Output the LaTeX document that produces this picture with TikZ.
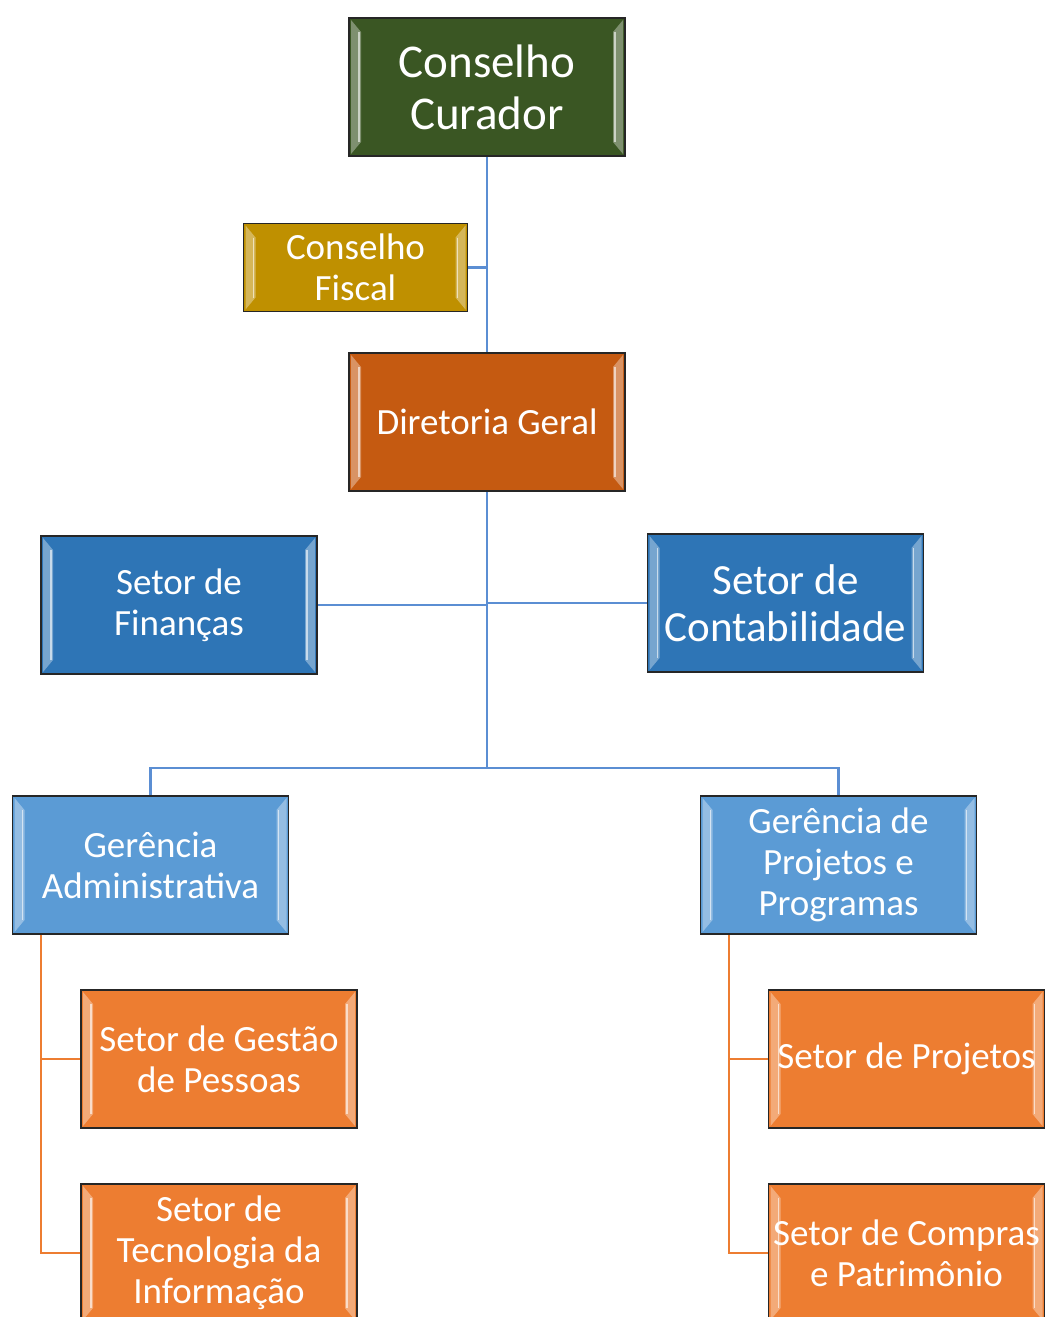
\documentclass[tikz,border=0pt]{standalone}
\usepackage{fontspec}
\setmainfont{Carlito}
\definecolor{curadorgreen}{HTML}{3A5623}
\definecolor{fiscalgold}{HTML}{BF9000}
\definecolor{diretoriaorange}{HTML}{C55A11}
\definecolor{setorblue}{HTML}{2E75B6}
\definecolor{gerencialight}{HTML}{5B9BD5}
\definecolor{setororange}{HTML}{ED7D31}
\definecolor{linkblue}{HTML}{5B8ED3}
\definecolor{linkorange}{HTML}{ED7D31}
\tikzset{
  orgbox/.style={draw=black!85, line width=1.6pt, minimum width=276pt, minimum height=138pt,
    inner sep=0pt, text=white, align=center, font=\fontsize{37}{41}\selectfont,
    path picture={
      % bevel strips
      \fill[white,opacity=.35] ([shift={(2,2)}]path picture bounding box.north west)
        -- ([shift={(12,14)}]path picture bounding box.north west)
        -- ([shift={(12,-14)}]path picture bounding box.south west)
        -- ([shift={(2,-2)}]path picture bounding box.south west) -- cycle;
      \fill[white,opacity=.35] ([shift={(-2,2)}]path picture bounding box.north east)
        -- ([shift={(-12,14)}]path picture bounding box.north east)
        -- ([shift={(-12,-14)}]path picture bounding box.south east)
        -- ([shift={(-2,-2)}]path picture bounding box.south east) -- cycle;
      \draw[white,opacity=.6,line width=1.5pt]
        ([shift={(10,14)}]path picture bounding box.north west)
        -- ([shift={(10,-14)}]path picture bounding box.south west);
      \draw[white,opacity=.6,line width=1.5pt]
        ([shift={(-10,14)}]path picture bounding box.north east)
        -- ([shift={(-10,-14)}]path picture bounding box.south east);
    }},
  blueline/.style={draw=linkblue, line width=2.2pt},
  orangeline/.style={draw=linkorange, line width=2.2pt}
}
\begin{document}
\begin{tikzpicture}[x=1pt,y=-1pt]
  \useasboundingbox (0,0) rectangle (1045,1317);

  % top level
  \node[orgbox, fill=curadorgreen, font=\fontsize{47}{52}\selectfont] (curador) at (487,87) {Conselho\\Curador};
  \node[orgbox, fill=fiscalgold, minimum width=224pt, minimum height=88pt] (fiscal) at (355.5,267.5) {Conselho\\Fiscal};
  \node[orgbox, fill=diretoriaorange] (diretoria) at (487,422) {Diretoria Geral};

  % setores ligados a diretoria
  \node[orgbox, fill=setorblue] (financas) at (179,605) {Setor de\\Finanças};
  \node[orgbox, fill=setorblue, font=\fontsize{43}{47}\selectfont] (contab) at (785.5,603) {Setor de\\Contabilidade};

  % gerencias
  \node[orgbox, fill=gerencialight] (gadm) at (150.5,865) {Gerência\\Administrativa};
  \node[orgbox, fill=gerencialight] (gproj) at (838.5,865) {Gerência de\\Projetos e\\Programas};

  % setores das gerencias
  \node[orgbox, fill=setororange] (gestao) at (219,1059) {Setor de Gestão\\de Pessoas};
  \node[orgbox, fill=setororange] (ti) at (219,1253) {Setor de\\Tecnologia da\\Informação};
  \node[orgbox, fill=setororange] (projetos) at (906.5,1059) {Setor de Projetos};
  \node[orgbox, fill=setororange] (compras) at (906.5,1253) {Setor de Compras\\e Patrimônio};

  % blue connectors
  \coordinate (hub) at (487,768);
  \draw[blueline] (curador.south) -- (diretoria.north);
  \draw[blueline] (fiscal.east) -- (fiscal.east -| curador.south);
  \draw[blueline] (diretoria.south) -- (hub);
  \draw[blueline] (financas.east) -- (financas.east -| hub);
  \draw[blueline] (contab.west) -- (contab.west -| hub);
  \draw[blueline] (gadm.north) |- (hub) -| (gproj.north);

  % orange connectors
  \coordinate (admtrunk) at ([xshift=29pt]gadm.south west);
  \coordinate (projtrunk) at ([xshift=29pt]gproj.south west);
  \draw[orangeline] (admtrunk) |- (ti.west);
  \draw[orangeline] (gestao.west) -- (gestao.west -| admtrunk);
  \draw[orangeline] (projtrunk) |- (compras.west);
  \draw[orangeline] (projetos.west) -- (projetos.west -| projtrunk);
\end{tikzpicture}
\end{document}
